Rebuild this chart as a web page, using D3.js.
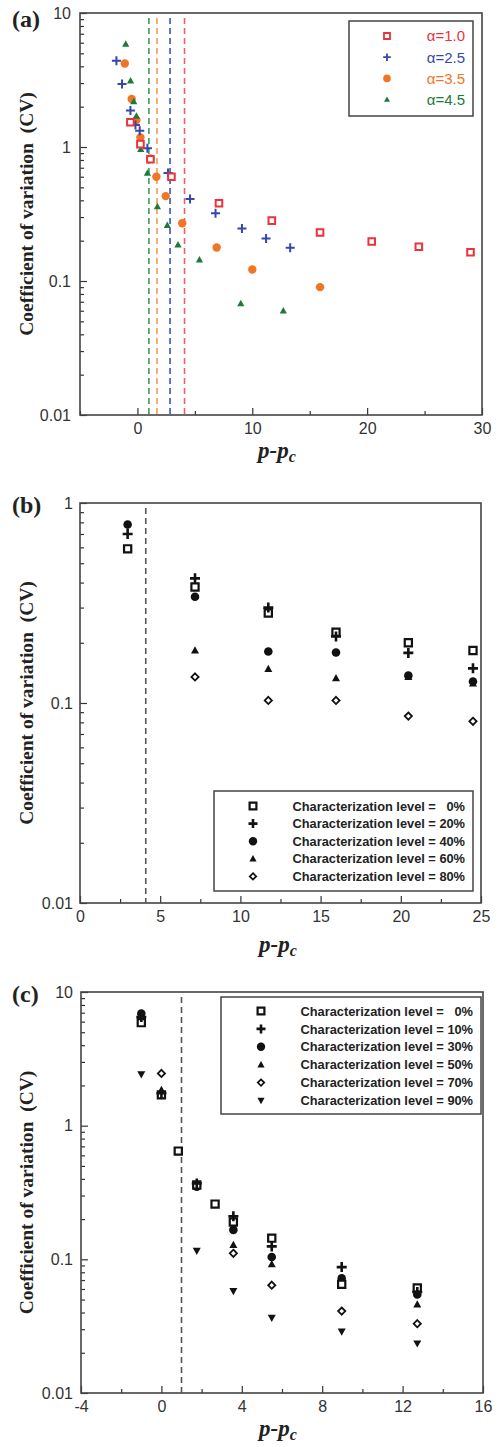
<!doctype html>
<html lang="en">
<head>
<meta charset="utf-8" />
<title>Coefficient of variation vs p-pc</title>
<script src="https://d3js.org/d3.v7.min.js"></script>
<style>
  html, body { margin: 0; padding: 0; background: #fff; }
  svg text { white-space: pre; }
</style>
</head>
<body>
<div id="chart"></div>
<script>
// ---------- panel (a) data ----------
const aSeriesNames = ["α=1.0", "α=2.5", "α=3.5", "α=4.5"];
const aX10 = [-0.61, 0.26, 1.13, 2.96, 7.1, 11.7, 15.9, 20.4, 24.5, 29.0];
const aY10 = [1.53, 1.05, 0.81, 0.60, 0.38, 0.282, 0.23, 0.197, 0.180, 0.164];
const aX25 = [-1.83, -1.34, -0.61, -0.17, 0.2, 0.87, 2.66, 4.58, 6.8, 9.1, 11.2, 13.3];
const aY25 = [4.4, 2.95, 1.87, 1.46, 1.32, 0.98, 0.64, 0.41, 0.32, 0.246, 0.208, 0.177];
const aX35 = [-1.1, -0.5, -0.09, 0.26, 1.13, 1.65, 2.46, 3.9, 6.9, 10.0, 15.9];
const aY35 = [4.2, 2.28, 1.59, 1.18, 0.82, 0.60, 0.43, 0.27, 0.178, 0.122, 0.090];
const aX45 = [-1.02, -0.6, -0.32, -0.09, 0.29, 0.87, 1.74, 2.6, 3.53, 5.4, 9.0, 12.7];
const aY45 = [5.87, 3.12, 2.18, 1.70, 0.96, 0.64, 0.36, 0.26, 0.186, 0.144, 0.068, 0.060];
const aCritical = [4.1, 2.84, 1.7, 1.0];   // dashed p_c lines for α=1.0, 2.5, 3.5, 4.5
const aXTicks = [0, 10, 20, 30];
const aXMinor = [-5, 5, 15, 25];

// ---------- panel (b) data ----------
const bLevels = ["\u20070%", "20%", "40%", "60%", "80%"];
const bX = [2.97, 7.17, 11.74, 15.96, 20.47, 24.5];
const bXLate = [7.17, 11.74, 15.96, 20.47, 24.5];
const bY0 = [0.59, 0.38, 0.282, 0.226, 0.20, 0.183];
const bY20 = [0.70, 0.42, 0.30, 0.215, 0.178, 0.149];
const bY40 = [0.78, 0.34, 0.181, 0.179, 0.137, 0.128];
const bY60 = [0.183, 0.148, 0.133, 0.135, 0.125];
const bY80 = [0.135, 0.103, 0.103, 0.086, 0.081];
const bCritical = 4.1;
const bXTicks = [0, 5, 10, 15, 20, 25];
const bXMinor = [2.5, 7.5, 12.5, 17.5, 22.5];

// ---------- panel (c) data ----------
const cLevels = ["\u20070%", "10%", "30%", "50%", "70%", "90%"];
const cX0 = [-1, 0, 0.84, 1.76, 2.67, 3.58, 5.49, 8.97, 12.73];
const cY0 = [5.9, 1.7, 0.645, 0.36, 0.259, 0.19, 0.144, 0.065, 0.061];
const cX10 = [-1, 0, 1.76, 3.58, 5.49, 8.97, 12.73];
const cY10 = [6.5, 1.75, 0.37, 0.21, 0.125, 0.0875, 0.057];
const cY30 = [6.9, 1.7, 0.35, 0.166, 0.104, 0.072, 0.0545];
const cX50 = [0, 1.76, 3.58, 5.49, 8.97, 12.73];
const cY50 = [1.85, 0.36, 0.128, 0.092, 0.068, 0.046];
const cX70 = [0, 3.58, 5.49, 8.97, 12.73];
const cY70 = [2.46, 0.111, 0.064, 0.041, 0.033];
const cX90 = [-1, 1.76, 3.58, 5.49, 8.97, 12.73];
const cY90 = [2.42, 0.116, 0.058, 0.0365, 0.0288, 0.0235];
const cCritical = 1.0;
const cXTicks = [-4, 0, 4, 8, 12, 16];
const cXMinor = [-2, 2, 6, 10, 14];

const yMajor = [0.01, 0.1, 1, 10];

const svg = d3.select("#chart").append("svg")
    .attr("width", 499)
    .attr("height", 1447);

const frameColor = "#444";
const tickColor = "#333";

// marker path, h = half size in px
function markerPath(shape, h) {
    switch (shape) {
        case "square": return `M${-h},${-h}H${h}V${h}H${-h}Z`;
        case "plus": return `M${-h},0H${h}M0,${-h}V${h}`;
        case "circle": return d3.symbol(d3.symbolCircle, Math.PI * h * h)();
        case "triangle": return `M0,${-h * 1.05}L${h},${h * 0.75}L${-h},${h * 0.75}Z`;
        case "triangleDown": return `M0,${h * 1.05}L${h},${-h * 0.75}L${-h},${-h * 0.75}Z`;
        case "diamond": return `M0,${-h}L${h},0L0,${h}L${-h},0Z`;
    }
}

function styleMarker(sel, shape, color, h, sw) {
    const open = shape === "square" || shape === "diamond";
    const line = shape === "plus";
    sel.attr("d", markerPath(shape, h))
        .attr("fill", open ? "#fff" : (line ? "none" : color))
        .attr("stroke", (open || line) ? color : "none")
        .attr("stroke-width", sw);
}

function logMinor(domain) {
    const out = [];
    for (let e = Math.round(Math.log10(domain[0])); e < Math.round(Math.log10(domain[1])); e++) {
        for (let m = 2; m <= 9; m++) out.push(m * Math.pow(10, e));
    }
    return out;
}

function drawPanel(p) {
    const g = svg.append("g");
    const x = d3.scaleLinear().domain(p.xDomain).range([p.left, p.right]);
    const y = d3.scaleLog().domain(p.yDomain).range([p.bottom, p.top]);

    // axes (inward ticks)
    g.append("g").attr("transform", `translate(0,${p.bottom})`)
        .call(d3.axisBottom(x).tickValues(p.xTicks).tickSize(-7).tickPadding(8).tickFormat(d => d));
    g.append("g").attr("transform", `translate(0,${p.bottom})`)
        .call(d3.axisBottom(x).tickValues(p.xMinor).tickSize(-4).tickFormat(""));
    g.append("g").attr("transform", `translate(${p.left},0)`)
        .call(d3.axisLeft(y).tickValues(yMajor.filter(v => v >= p.yDomain[0] && v <= p.yDomain[1]))
            .tickSize(-7).tickPadding(p.yPad).tickFormat(d => String(d)));
    g.append("g").attr("transform", `translate(${p.left},0)`)
        .call(d3.axisLeft(y).tickValues(logMinor(p.yDomain)).tickSize(-4).tickFormat(""));
    g.selectAll(".domain").remove();
    g.selectAll(".tick line").attr("stroke", tickColor).attr("stroke-width", 1.2);
    g.selectAll(".tick text").attr("fill", tickColor)
        .style("font-family", "'Liberation Sans', Arial, sans-serif").style("font-size", "16px");

    // frame
    g.append("rect")
        .attr("x", p.left).attr("y", p.top)
        .attr("width", p.right - p.left).attr("height", p.bottom - p.top)
        .attr("fill", "none").attr("stroke", frameColor).attr("stroke-width", 1.6);

    // dashed critical lines
    p.critical.forEach(c => {
        g.append("line")
            .attr("x1", x(c.x)).attr("x2", x(c.x))
            .attr("y1", p.top + 5).attr("y2", p.bottom)
            .attr("stroke", c.color).attr("stroke-width", 1.6)
            .attr("stroke-dasharray", "6,4");
    });

    // series
    p.series.forEach(s => {
        g.selectAll(null)
            .data(d3.zip(s.x, s.y))
            .enter().append("path")
            .attr("transform", d => `translate(${x(d[0])},${y(d[1])})`)
            .call(styleMarker, s.shape, s.color, s.h, s.sw);
    });

    // legend
    const L = p.legend;
    g.append("rect")
        .attr("x", L.x0).attr("y", L.y0)
        .attr("width", L.x1 - L.x0).attr("height", L.y1 - L.y0)
        .attr("fill", "#fff").attr("stroke", frameColor).attr("stroke-width", 1.5);
    L.items.forEach((it, i) => {
        const ry = L.rowY + i * L.rowStep;
        g.append("path")
            .attr("transform", `translate(${L.markerX},${ry})`)
            .call(styleMarker, it.shape, it.markColor, it.h, it.sw);
        g.append("text")
            .attr("x", L.textEnd).attr("y", ry).attr("dy", "0.36em")
            .attr("text-anchor", "end")
            .attr("fill", it.textColor)
            .style("font-family", "'Liberation Sans', Arial, sans-serif")
            .style("font-weight", L.bold ? "bold" : "normal")
            .style("font-size", L.fontSize)
            .text(L.prefix + it.label);
    });

    // panel letter
    g.append("text")
        .attr("x", 12).attr("y", p.letterY)
        .style("font-family", "'Liberation Serif', 'Times New Roman', serif")
        .style("font-weight", "bold").style("font-size", "24px")
        .attr("fill", "#222")
        .text(p.letter);

    // y title
    const cy = (p.top + p.bottom) / 2;
    g.append("text")
        .attr("transform", `translate(33,${cy}) rotate(-90)`)
        .attr("text-anchor", "middle")
        .style("font-family", "'Liberation Serif', 'Times New Roman', serif")
        .style("font-weight", "bold").style("font-size", "19.5px")
        .attr("fill", "#222")
        .text("Coefficient of variation  (CV)");

    // x title
    const xt = g.append("text")
        .attr("x", p.xTitleX).attr("y", p.xTitleY)
        .attr("text-anchor", "middle")
        .style("font-family", "'Liberation Serif', 'Times New Roman', serif")
        .style("font-weight", "bold").style("font-style", "italic").style("font-size", "23px")
        .attr("fill", "#222");
    xt.append("tspan").text("p-p");
    xt.append("tspan").attr("dy", 4).style("font-size", "16px").text("c");
}

// ---------- colours ----------
const red = "#e8343a", blue = "#3447ad", orange = "#f27424", green = "#1d7a3b";

// ---------- panel (a) ----------
drawPanel({
    letter: "(a)", letterY: 27,
    left: 80, right: 482, top: 13, bottom: 415,
    xDomain: [-5, 30], yDomain: [0.01, 10],
    xTicks: aXTicks, xMinor: aXMinor, yPad: 9,
    xTitleX: 277, xTitleY: 458,
    critical: [
        { x: aCritical[0], color: "#f2605e" },
        { x: aCritical[1], color: "#3b4fd0" },
        { x: aCritical[2], color: "#f59a5a" },
        { x: aCritical[3], color: "#3c9a5a" }
    ],
    series: [
        { x: aX35, y: aY35, shape: "circle", color: orange, h: 4.2, sw: 0 },
        { x: aX45, y: aY45, shape: "triangle", color: green, h: 3.6, sw: 0 },
        { x: aX25, y: aY25, shape: "plus", color: blue, h: 4.5, sw: 2 },
        { x: aX10, y: aY10, shape: "square", color: red, h: 3.3, sw: 2 }
    ],
    legend: {
        x0: 349, x1: 473, y0: 21, y1: 116,
        markerX: 387, textEnd: 465, rowY: 36, rowStep: 21.2, fontSize: "15px", bold: false, prefix: "",
        items: [
            { label: aSeriesNames[0], shape: "square", markColor: red, textColor: red, h: 3, sw: 1.8 },
            { label: aSeriesNames[1], shape: "plus", markColor: blue, textColor: blue, h: 3.8, sw: 1.8 },
            { label: aSeriesNames[2], shape: "circle", markColor: orange, textColor: orange, h: 3.8, sw: 0 },
            { label: aSeriesNames[3], shape: "triangle", markColor: green, textColor: green, h: 3, sw: 0 }
        ]
    }
});

// ---------- panel (b) ----------
drawPanel({
    letter: "(b)", letterY: 513,
    left: 80, right: 481, top: 503, bottom: 903,
    xDomain: [0, 25], yDomain: [0.01, 1],
    xTicks: bXTicks, xMinor: bXMinor, yPad: 7,
    xTitleX: 278, xTitleY: 952,
    critical: [{ x: bCritical, color: "#555" }],
    series: [
        { x: bXLate, y: bY80, shape: "diamond", color: "#111", h: 3.6, sw: 1.8 },
        { x: bXLate, y: bY60, shape: "triangle", color: "#111", h: 4, sw: 0 },
        { x: bX, y: bY40, shape: "circle", color: "#111", h: 4.3, sw: 0 },
        { x: bX, y: bY0, shape: "square", color: "#111", h: 3.6, sw: 2.2 },
        { x: bX, y: bY20, shape: "plus", color: "#111", h: 5, sw: 2.6 }
    ],
    legend: {
        x0: 214, x1: 473, y0: 791, y1: 891,
        markerX: 253, textEnd: 465, rowY: 806, rowStep: 17.6, fontSize: "12.8px", bold: true,
        prefix: "Characterization level = ",
        items: bLevels.map((lv, i) => ({
            label: lv,
            shape: ["square", "plus", "circle", "triangle", "diamond"][i],
            markColor: "#111", textColor: "#222",
            h: [3.4, 4.5, 4.2, 3.6, 3.2][i],
            sw: [2.2, 2.6, 0, 0, 1.8][i]
        }))
    }
});

// ---------- panel (c) ----------
drawPanel({
    letter: "(c)", letterY: 1002,
    left: 81, right: 483, top: 992, bottom: 1393,
    xDomain: [-4, 16], yDomain: [0.01, 10],
    xTicks: cXTicks, xMinor: cXMinor, yPad: 8,
    xTitleX: 278, xTitleY: 1436,
    critical: [{ x: cCritical, color: "#555" }],
    series: [
        { x: cX90, y: cY90, shape: "triangleDown", color: "#111", h: 4, sw: 0 },
        { x: cX70, y: cY70, shape: "diamond", color: "#111", h: 3.6, sw: 1.8 },
        { x: cX50, y: cY50, shape: "triangle", color: "#111", h: 4, sw: 0 },
        { x: cX10, y: cY30, shape: "circle", color: "#111", h: 4.3, sw: 0 },
        { x: cX0, y: cY0, shape: "square", color: "#111", h: 3.6, sw: 2.2 },
        { x: cX10, y: cY10, shape: "plus", color: "#111", h: 5, sw: 2.6 }
    ],
    legend: {
        x0: 221, x1: 481, y0: 997, y1: 1114,
        markerX: 261, textEnd: 473, rowY: 1011, rowStep: 17.9, fontSize: "12.8px", bold: true,
        prefix: "Characterization level = ",
        items: cLevels.map((lv, i) => ({
            label: lv,
            shape: ["square", "plus", "circle", "triangle", "diamond", "triangleDown"][i],
            markColor: "#111", textColor: "#222",
            h: [3.4, 4.5, 4.2, 3.6, 3.2, 3.6][i],
            sw: [2.2, 2.6, 0, 0, 1.8, 0][i]
        }))
    }
});
</script>
</body>
</html>
